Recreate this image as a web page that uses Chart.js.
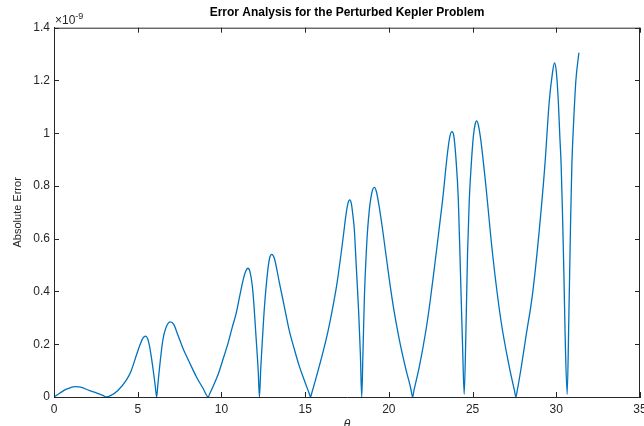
<!DOCTYPE html>
<html>
<head>
<meta charset="utf-8">
<script src="https://cdn.jsdelivr.net/npm/chart.js@4.4.1/dist/chart.umd.min.js"></script>
<style>
  html, body { margin: 0; padding: 0; background: #ffffff; }
  #wrap { width: 644px; height: 426px; position: relative; }
</style>
</head>
<body>
<div id="wrap"><canvas id="c" width="644" height="426"></canvas></div>
<script>
// theta values (x axis)
const theta = [
  0, 0.34, 0.7, 1.0, 1.24, 1.6, 2.13, 2.6, 2.95, 3.12,
  3.4, 3.8, 4.32, 4.6, 4.92, 5.15, 5.32, 5.47, 5.6, 5.7, 5.81, 5.95, 6.05, 6.13,
  6.2, 6.31, 6.5, 6.7, 6.94, 7.15, 7.4, 7.7, 8.1, 8.5, 8.9, 9.21,
  9.3, 9.5, 9.8, 10.08, 10.4, 10.65, 10.88, 11.1, 11.3, 11.45, 11.58, 11.7, 11.87, 12.08, 12.2, 12.27,
  12.35, 12.45, 12.57, 12.77, 12.88, 13.0, 13.15, 13.47, 13.76, 14.06, 14.36, 14.66, 15.0, 15.25, 15.32,
  15.4, 15.6, 16.05, 16.35, 16.65, 16.9, 17.15, 17.3, 17.45, 17.56, 17.66, 17.76, 17.85, 17.94, 18.05, 18.2, 18.3, 18.38,
  18.45, 18.54, 18.63, 18.73, 18.85, 18.94, 19.03, 19.13, 19.25, 19.4, 19.63, 20.03, 20.3, 20.63, 21.03, 21.3, 21.42,
  21.5, 21.82, 22.22, 22.46, 22.72, 22.97, 23.21, 23.5, 23.65, 23.77, 23.88, 24.0, 24.15, 24.3, 24.4, 24.5,
  24.6, 24.7, 24.8, 24.9, 25.05, 25.15, 25.24, 25.35, 25.5, 25.8, 26.19, 26.69, 27.19, 27.5, 27.59,
  27.67, 27.9, 28.19, 28.58, 28.98, 29.32, 29.58, 29.77, 29.89, 30.0, 30.13, 30.21, 30.29, 30.37, 30.45, 30.53, 30.65,
  30.75, 30.85, 30.93, 31.05, 31.17, 31.35
];
// absolute error, in units of 1e-9
const absError = [
  0, 0.014, 0.029, 0.036, 0.039, 0.037, 0.024, 0.014, 0.005, 0,
  0.006, 0.024, 0.064, 0.098, 0.158, 0.2, 0.224, 0.231, 0.22, 0.195, 0.153, 0.09, 0.04, 0,
  0.045, 0.115, 0.216, 0.265, 0.285, 0.275, 0.235, 0.185, 0.13, 0.077, 0.033, 0,
  0.012, 0.04, 0.085, 0.14, 0.205, 0.265, 0.317, 0.385, 0.445, 0.477, 0.488, 0.476, 0.405, 0.216, 0.095, 0,
  0.11, 0.22, 0.342, 0.481, 0.527, 0.541, 0.528, 0.431, 0.342, 0.25, 0.18, 0.115, 0.055, 0.012, 0,
  0.016, 0.06, 0.166, 0.245, 0.34, 0.43, 0.545, 0.62, 0.696, 0.735, 0.747, 0.733, 0.69, 0.633, 0.5, 0.318, 0.16, 0,
  0.16, 0.38, 0.52, 0.633, 0.72, 0.76, 0.786, 0.795, 0.78, 0.73, 0.633, 0.444, 0.33, 0.216, 0.102, 0.035, 0,
  0.025, 0.115, 0.255, 0.36, 0.49, 0.62, 0.747, 0.924, 0.99, 1.006, 0.99, 0.91, 0.747, 0.418, 0.2, 0.01,
  0.24, 0.545, 0.74, 0.86, 0.99, 1.033, 1.047, 1.03, 0.97, 0.797, 0.545, 0.292, 0.115, 0.025, 0,
  0.025, 0.11, 0.23, 0.39, 0.63, 0.88, 1.12, 1.228, 1.267, 1.235, 1.11, 0.99, 0.88, 0.7, 0.48, 0.23, 0.01,
  0.3, 0.65, 0.88, 1.06, 1.2, 1.305
];
const xTicks = [0, 5, 10, 15, 20, 25, 30, 35];
const yTicks = [0, 0.2, 0.4, 0.6, 0.8, 1, 1.2, 1.4];
const titleText = 'Error Analysis for the Perturbed Kepler Problem';
const xLabel = '\u03B8';
const yLabel = 'Absolute Error';
const expLabel = ['\u00D710', '-9'];

const axisColor = '#262626';
const FONT = "'Liberation Sans', Arial, Helvetica, sans-serif";

const boxPlugin = {
  id: 'boxPlugin',
  afterDraw(chart) {
    const ctx = chart.ctx;
    const a = chart.chartArea;
    const xs = chart.scales.x, ys = chart.scales.y;
    ctx.save();
    ctx.strokeStyle = axisColor;
    ctx.lineWidth = 1;
    ctx.beginPath();
    // top and right box lines
    ctx.moveTo(a.left, a.top + 0.5); ctx.lineTo(a.right, a.top + 0.5);
    ctx.moveTo(a.right - 0.5, a.top); ctx.lineTo(a.right - 0.5, a.bottom);
    const tl = 5;
    xTicks.forEach(v => {
      const px = Math.round(xs.getPixelForValue(v)) + 0.5;
      ctx.moveTo(px, a.bottom); ctx.lineTo(px, a.bottom - tl);
      ctx.moveTo(px, a.top); ctx.lineTo(px, a.top + tl);
    });
    yTicks.forEach(v => {
      const py = Math.round(ys.getPixelForValue(v)) + 0.5;
      ctx.moveTo(a.left, py); ctx.lineTo(a.left + tl, py);
      ctx.moveTo(a.right, py); ctx.lineTo(a.right - tl, py);
    });
    ctx.stroke();
    // exponent label
    ctx.fillStyle = axisColor;
    ctx.textBaseline = 'middle';
    ctx.textAlign = 'left';
    ctx.font = '12px ' + FONT;
    ctx.fillText(expLabel[0], a.left + 1, 20.5);
    const w = ctx.measureText(expLabel[0]).width;
    ctx.font = '9px ' + FONT;
    ctx.fillText(expLabel[1], a.left + 1 + w, 16.5);
    ctx.restore();
  }
};

const chart = new Chart(document.getElementById('c'), {
  type: 'line',
  data: {
    datasets: [{
      data: theta.map((t, i) => ({ x: t, y: absError[i] })),
      borderColor: '#0072BD',
      borderWidth: 1.3,
      pointRadius: 0,
      fill: false,
      cubicInterpolationMode: 'monotone'
    }]
  },
  options: {
    responsive: false,
    animation: false,
    devicePixelRatio: 1,
    layout: { padding: { left: 0, right: 4, top: 0, bottom: 0 } },
    plugins: {
      legend: { display: false },
      tooltip: { enabled: false },
      title: {
        display: true,
        text: titleText,
        fullSize: false,
        color: '#000000',
        font: { family: FONT, size: 12, weight: 'bold', lineHeight: 1.2 },
        padding: { top: 5, bottom: 8.3 }
      }
    },
    scales: {
      x: {
        type: 'linear',
        min: 0, max: 35,
        grid: { display: true, drawOnChartArea: false, drawTicks: false },
        border: { display: true, color: axisColor, width: 1 },
        afterBuildTicks: s => { s.ticks = xTicks.map(v => ({ value: v })); },
        ticks: {
          color: axisColor,
          padding: 5,
          maxRotation: 0,
          font: { family: FONT, size: 12 },
          callback: v => String(v)
        },
        title: {
          display: true,
          text: xLabel,
          color: axisColor,
          font: { family: FONT, size: 12, style: 'italic', lineHeight: 0.3 },
          padding: { top: 0, bottom: 0 }
        },
        afterFit: s => { s.height = 29; s.paddingLeft = 0; s.paddingRight = 0; }
      },
      y: {
        type: 'linear',
        min: 0, max: 1.4,
        grid: { display: true, drawOnChartArea: false, drawTicks: false },
        border: { display: true, color: axisColor, width: 1 },
        afterBuildTicks: s => { s.ticks = yTicks.map(v => ({ value: v })); },
        ticks: {
          color: axisColor,
          padding: 4,
          font: { family: FONT, size: 12 },
          callback: v => String(Math.round(v * 10) / 10)
        },
        title: {
          display: true,
          text: yLabel,
          color: axisColor,
          font: { family: FONT, size: 11, lineHeight: 1.2 },
          padding: { top: 11, bottom: 0 }
        },
        afterFit: s => { s.width = 54; s.paddingTop = 0; s.paddingBottom = 0; }
      }
    }
  },
  plugins: [boxPlugin]
});
</script>
</body>
</html>
